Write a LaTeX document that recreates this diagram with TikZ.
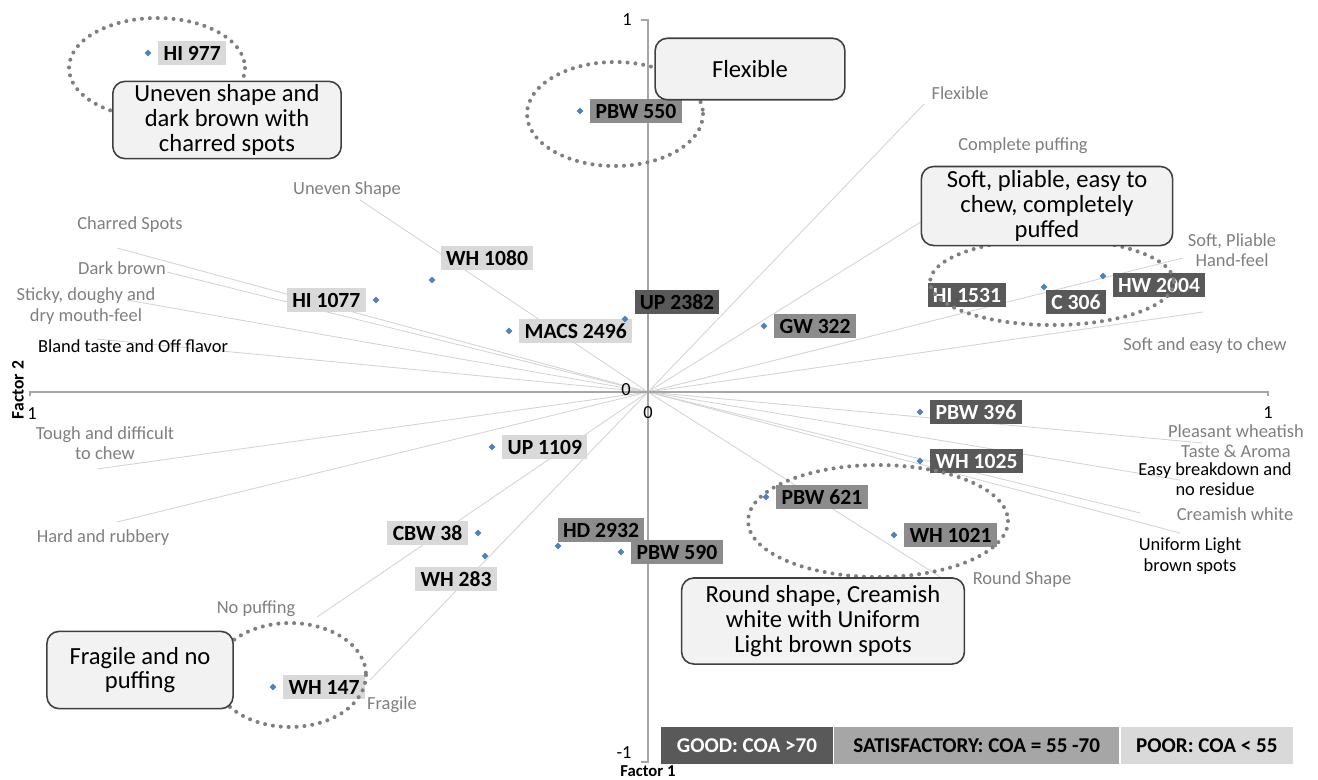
\documentclass[tikz,border=0pt]{standalone}
\usepackage{fontspec}
\setmainfont{Carlito}
\usetikzlibrary{shapes.geometric,positioning}
\definecolor{cgood}{HTML}{595959}
\definecolor{csatis}{HTML}{8C8C8C}
\definecolor{cpoor}{HTML}{D9D9D9}
\definecolor{clegsat}{HTML}{A6A6A6}
\definecolor{cpoint}{HTML}{4F81BD}
\definecolor{cload}{HTML}{D4D4D4}
\definecolor{caxis}{HTML}{A6A6A6}
\definecolor{ctext}{HTML}{7F7F7F}
\definecolor{cring}{HTML}{7F7F7F}
\definecolor{ccall}{HTML}{F2F2F2}

\begin{document}
\begin{tikzpicture}[x=0.02cm, y=-0.02cm, label distance=3.5pt,
	point/.style={fill=cpoint, diamond, inner sep=0, minimum size=4pt},
	tag/.style={font=\fontsize{12.3}{14}\selectfont\bfseries, inner xsep=3pt, inner ysep=0pt,
		minimum height=14pt, text height=8.5pt, text depth=0pt},
	good/.style={tag, fill=cgood, text=white},
	satis/.style={tag, fill=csatis, text=black},
	poor/.style={tag, fill=cpoor, text=black},
	loading/.style={draw=cload, line width=0.5pt},
	axis/.style={draw=caxis, line width=0.8pt},
	lab/.style={text=ctext, font=\fontsize{10.5}{11.5}\selectfont, align=center, inner sep=0pt},
	tick/.style={font=\fontsize{10.5}{12}\selectfont, inner sep=0pt},
	ring/.style={draw=cring, line width=2.3pt, dash pattern=on 0pt off 4.5pt, line cap=round},
	callout/.style={draw=black!75, fill=ccall, line width=0.9pt, rounded corners=7pt,
		align=center, font=\fontsize{14}{14}\selectfont, inner sep=0pt},
	legend/.style={font=\fontsize{12}{14}\selectfont\bfseries, minimum height=21pt, inner sep=0pt}]
	\useasboundingbox (0,0) rectangle (1318,779);

	% loadings
	\coordinate (O) at (648,392);
	\coordinate (e-flex) at (924,104);
	\coordinate (e-puff) at (985,182);
	\coordinate (e-pliable) at (1183,258);
	\coordinate (e-chew) at (1203,312);
	\coordinate (e-aroma) at (1203,443);
	\coordinate (e-residue) at (1180,480);
	\coordinate (e-cream) at (1140,513);
	\coordinate (e-spots) at (1180,533);
	\coordinate (e-round) at (945,580);
	\coordinate (e-uneven) at (360,200);
	\coordinate (e-charred) at (117,248);
	\coordinate (e-dark) at (167,272);
	\coordinate (e-sticky) at (127,300);
	\coordinate (e-bland) at (97,339);
	\coordinate (e-tough) at (97,469);
	\coordinate (e-hard) at (117,522);
	\coordinate (e-nopuff) at (317,617);
	\coordinate (e-fragile) at (370,680);
	\foreach \e in {flex,puff,pliable,chew,aroma,residue,cream,spots,round,
		uneven,charred,dark,sticky,bland,tough,hard,nopuff,fragile}
		\draw[loading] (O) -- (e-\e);

	% axes
	\coordinate (xl) at (30,392);
	\coordinate (xr) at (1268,392);
	\coordinate (yt) at (648,20);
	\coordinate (yb) at (648,762);
	\draw[axis] ([yshift=-2pt]xl) -- (xl) -- (xr) -- ([yshift=-2pt]xr);
	\draw[axis] ([xshift=-4pt]yt) -- (yt) -- (yb) -- ([xshift=-4pt]yb);
	\node[tick] (t-top) at (627,20) {1};
	\node[tick] (t-zl) at (626,390) {0};
	\node[tick] (t-zb) at (648,413) {0};
	\node[tick] (t-left) at (32,414) {1};
	\node[tick] (t-right) at (1268,413) {1};
	\node[tick] (t-bot) at (624,753) {-1};
	\node[tick, font=\fontsize{9.5}{11}\selectfont\bfseries] (f1) at (648,771) {Factor 1};
	\node[tick, font=\fontsize{10}{12}\selectfont\bfseries, rotate=90] (f2) at (18,390) {Factor 2};

	% genotypes
	\node[point, label={[poor]east:HI 977}] (hi977) at (148,53) {};
	\node[point, label={[satis]east:PBW 550}] (pbw550) at (580,111) {};
	\node[point] (wh1080) at (432,280) {};
	\node[poor] (t-wh1080) at (487,258) {WH 1080};
	\node[point, label={[poor]west:HI 1077}] (hi1077) at (376,300) {};
	\node[point, label={[poor]east:MACS 2496}] (macs2496) at (509,331) {};
	\node[point] (up2382) at (625,319) {};
	\node[good, text=black] (t-up2382) at (677,302) {UP 2382};
	\node[point, label={[satis]east:GW 322}] (gw322) at (764,326) {};
	\node[point] (hi1531) at (975,292) {};
	\node[good] (t-hi1531) at (967,295) {HI 1531};
	\node[point] (c306) at (1044,287) {};
	\node[good] (t-c306) at (1076,302) {C 306};
	\node[point] (hw2004) at (1103,276) {};
	\node[good] (t-hw2004) at (1159,285) {HW 2004};
	\node[point, label={[good]east:PBW 396}] (pbw396) at (920,412) {};
	\node[point, label={[good]east:WH 1025}] (wh1025) at (920,461) {};
	\node[point, label={[satis]east:PBW 621}] (pbw621) at (766,497) {};
	\node[point, label={[satis]east:WH 1021}] (wh1021) at (894,535) {};
	\node[point, label={[poor]east:UP 1109}] (up1109) at (492,447) {};
	\node[point, label={[poor]west:CBW 38}] (cbw38) at (478,533) {};
	\node[point] (wh283) at (485,556) {};
	\node[poor] (t-wh283) at (456,579) {WH 283};
	\node[point] (hd2932) at (558,546) {};
	\node[satis] (t-hd2932) at (601,530) {HD 2932};
	\node[point, label={[satis]east:PBW 590}] (pbw590) at (621,552) {};
	\node[point, label={[poor]east:WH 147}] (wh147) at (273,687) {};

	% attribute labels
	\node[lab] (l-flex) at (960,93) {Flexible};
	\node[lab] (l-puff) at (1023,146) {Complete puffing};
	\node[lab] (l-pliable) at (1232,250) {Soft, Pliable\\Hand-feel};
	\node[lab] (l-chew) at (1205,346) {Soft and easy to chew};
	\node[lab] (l-aroma) at (1236,441) {Pleasant wheatish\\Taste \& Aroma};
	\node[lab, text=black] (l-residue) at (1215,479) {Easy breakdown and\\no residue};
	\node[lab] (l-cream) at (1235,514) {Creamish white};
	\node[lab, text=black] (l-spots) at (1190,556) {Uniform Light\\brown spots};
	\node[lab] (l-round) at (1022,580) {Round Shape};
	\node[lab] (l-uneven) at (347,190) {Uneven Shape};
	\node[lab] (l-charred) at (130,225) {Charred Spots};
	\node[lab] (l-dark) at (122,268) {Dark brown};
	\node[lab] (l-sticky) at (86,306) {Sticky, doughy and\\dry mouth-feel};
	\node[lab, text=black] (l-bland) at (133,346) {Bland taste and Off flavor};
	\node[lab] (l-tough) at (105,443) {Tough and difficult\\to chew};
	\node[lab] (l-hard) at (103,538) {Hard and rubbery};
	\node[lab] (l-nopuff) at (256,609) {No puffing};
	\node[lab] (l-fragile) at (392,705) {Fragile};

	% groups
	\draw[ring] (157,68) ellipse [x radius=88, y radius=50];
	\draw[ring] (615,114) ellipse [x radius=88, y radius=52];
	\draw[ring] (1052,282) ellipse [x radius=122, y radius=43];
	\draw[ring] (878,521) ellipse [x radius=130, y radius=56];
	\draw[ring] (290,675) ellipse [x radius=76, y radius=52];

	\node[callout, minimum width=130pt, minimum height=44pt] (c-uneven) at (227,120)
		{Uneven shape and\\dark brown with\\charred spots};
	\node[callout, minimum width=108pt, minimum height=35pt] (c-flex) at (750,69) {Flexible};
	\node[callout, minimum width=143pt, minimum height=45pt] (c-soft) at (1047,206)
		{Soft, pliable, easy to\\chew, completely\\puffed};
	\node[callout, minimum width=161pt, minimum height=49pt] (c-round) at (823,621)
		{Round shape, Creamish\\white with Uniform\\Light brown spots};
	\node[callout, minimum width=106pt, minimum height=44pt] (c-frag) at (140,670)
		{Fragile and no\\puffing};

	% legend
	\node[legend, fill=cgood, text=white, minimum width=97.5pt, anchor=north west] (lg-good) at (661,727) {GOOD: COA >70};
	\node[legend, fill=clegsat, minimum width=162pt, right=0.6pt of lg-good] (lg-satis) {SATISFACTORY: COA = 55 -70};
	\node[legend, fill=cpoor, minimum width=98pt, right=0.6pt of lg-satis] (lg-poor) {POOR: COA < 55};

\end{tikzpicture}
\end{document}
